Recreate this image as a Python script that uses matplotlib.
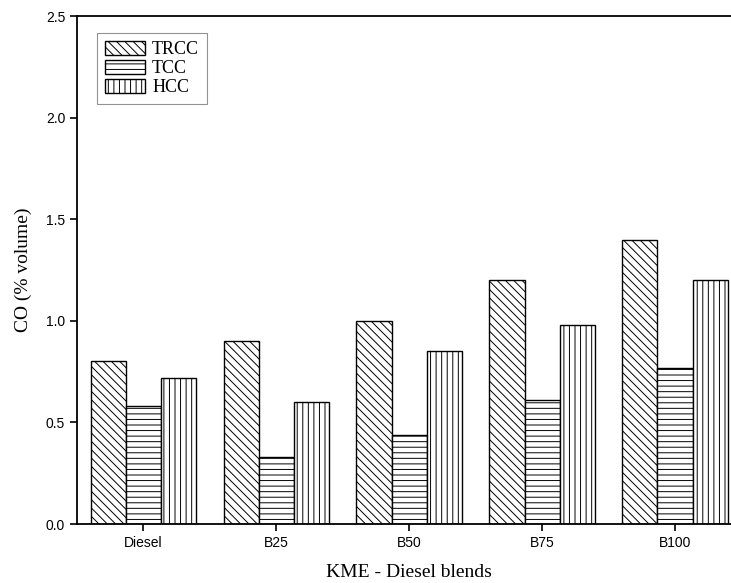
import matplotlib
matplotlib.use("Agg")
import matplotlib.pyplot as plt
import numpy as np

blends = ["Diesel", "B25", "B50", "B75", "B100"]
series_names = ["TRCC", "TCC", "HCC"]
trcc = [0.80, 0.90, 1.00, 1.20, 1.40]
tcc = [0.58, 0.33, 0.44, 0.61, 0.77]
hcc = [0.72, 0.60, 0.85, 0.98, 1.20]
y_ticks = [0.0, 0.5, 1.0, 1.5, 2.0, 2.5]

plt.rcParams["hatch.linewidth"] = 0.7
plt.rcParams["hatch.color"] = "#444444"

fig = plt.figure(figsize=(7.31, 5.83), dpi=100)
ax = fig.add_axes([77 / 731, 1 - 524 / 583, 664.5 / 731, 508 / 583])

x = np.arange(len(blends))
w = 0.265
hatches = ["\\\\\\\\", "---", "|||"]
for i, (vals, name) in enumerate(zip([trcc, tcc, hcc], series_names)):
    ax.bar(x + (i - 1) * w, vals, width=w, facecolor="white", edgecolor="black",
           linewidth=1.0, hatch=hatches[i], label=name)

ax.set_xlim(-0.5, 4.5)
ax.set_ylim(0, 2.5)
ax.set_yticks(y_ticks)
ax.set_yticklabels([f"{v:.1f}" for v in y_ticks])
ax.set_xticks(x)
ax.set_xticklabels(blends)
for lab in ax.get_xticklabels() + ax.get_yticklabels():
    lab.set_fontfamily("Liberation Sans")
    lab.set_fontsize(10)
ax.tick_params(direction="out", length=5, width=1.2, colors="black")
for s in ax.spines.values():
    s.set_linewidth(1.3)

ax.set_xlabel("KME - Diesel blends", family="Liberation Serif", fontsize=14, labelpad=10)
ax.set_ylabel("CO (% volume)", family="Liberation Serif", fontsize=14, labelpad=10)

leg = ax.legend(loc="upper left", bbox_to_anchor=(20 / 664.5, 1 - 17 / 508),
                prop={"family": "Liberation Serif", "size": 13},
                fancybox=False, edgecolor="#777777", handlelength=2.2,
                handleheight=0.8, handletextpad=0.4, labelspacing=0.1,
                borderpad=0.45, borderaxespad=0)
leg.get_frame().set_linewidth(0.8)

fig.savefig("out.png", dpi=100)
